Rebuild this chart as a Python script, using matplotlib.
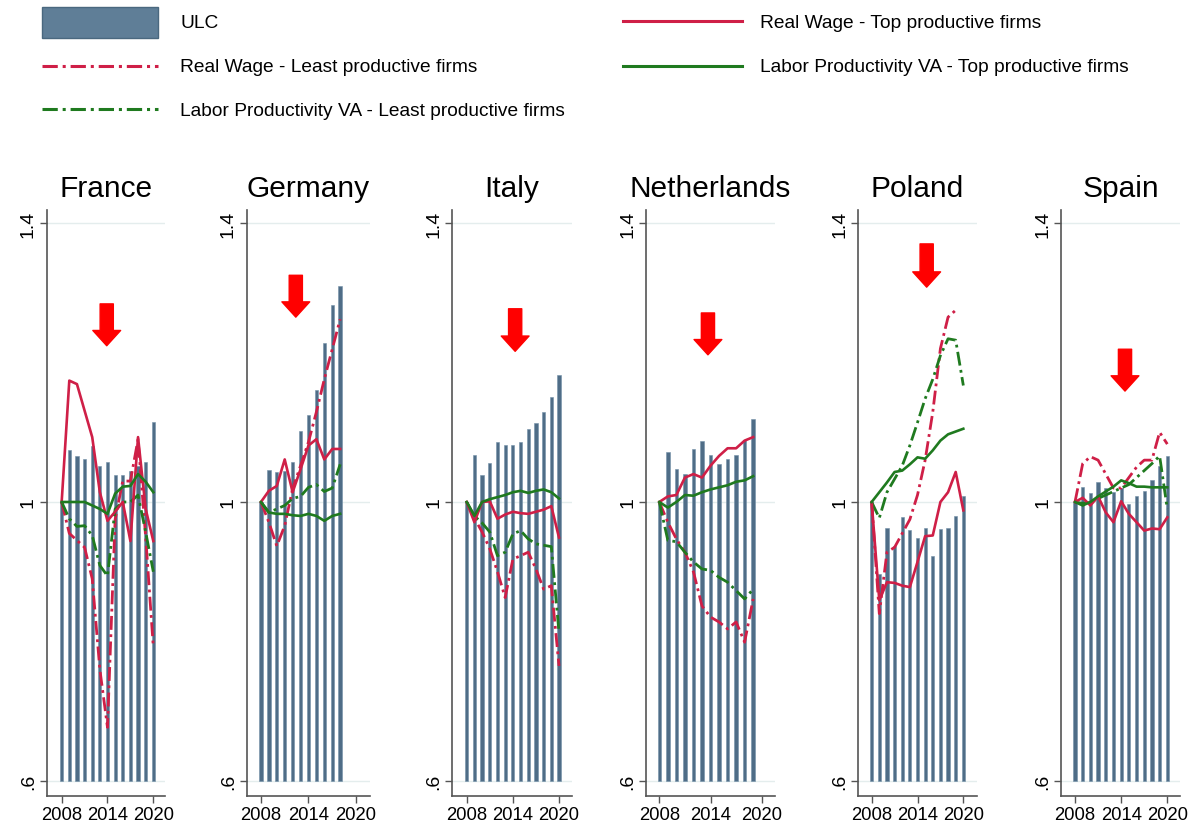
import matplotlib.pyplot as plt
import numpy as np
from matplotlib.lines import Line2D
from matplotlib.patches import Rectangle

plt.rcParams['font.family'] = ['Liberation Sans', 'DejaVu Sans']

nan = np.nan
countries = ['France', 'Germany', 'Italy', 'Netherlands', 'Poland', 'Spain']
first_year = 2008

# ULC (bars), index 2008 = 1
fr_ulc = [1.0, 1.075, 1.066, 1.062, 1.080, 1.052, 1.058, 1.039, 1.039, 1.045, 1.052, 1.058, 1.114]
de_ulc = [1.0, 1.046, 1.043, 1.045, 1.058, 1.102, 1.124, 1.160, 1.228, 1.282, 1.309]
it_ulc = [1.0, 1.067, 1.039, 1.056, 1.086, 1.082, 1.082, 1.086, 1.104, 1.113, 1.129, 1.150, 1.182]
nl_ulc = [1.0, 1.072, 1.048, 1.040, 1.076, 1.088, 1.068, 1.055, 1.062, 1.068, 1.089, 1.119]
pl_ulc = [1.0, 0.897, 0.962, 0.937, 0.978, 0.960, 0.949, 0.962, 0.923, 0.961, 0.962, 0.980, 1.009]
es_ulc = [1.0, 1.022, 1.013, 1.028, 1.020, 1.014, 1.020, 0.997, 1.009, 1.016, 1.032, 1.052, 1.066]

# Real wage - top productive firms
fr_rw_top = [1.0, 1.174, 1.169, 1.131, 1.093, 1.014, 0.973, 0.986, 1.000, 0.944, 1.093, 0.990, 0.944]
de_rw_top = [1.0, 1.016, 1.023, 1.061, 1.014, 1.047, 1.081, 1.090, 1.061, 1.076, 1.076]
it_rw_top = [1.0, 0.971, 1.000, 1.001, 0.976, 0.982, 0.986, 0.984, 0.983, 0.986, 0.989, 0.994, 0.949]
nl_rw_top = [1.0, 1.008, 1.010, 1.035, 1.040, 1.035, 1.052, 1.066, 1.077, 1.077, 1.088, 1.093]
pl_rw_top = [1.0, 0.859, 0.885, 0.884, 0.880, 0.878, 0.914, 0.951, 0.952, 1.000, 1.014, 1.043, 0.988]
es_rw_top = [1.0, 1.006, 0.995, 1.008, 0.985, 0.971, 1.001, 0.983, 0.971, 0.959, 0.962, 0.961, 0.978]

# Real wage - least productive firms
fr_rw_least = [1.0, 0.955, 0.945, 0.935, 0.890, 0.760, 0.677, 0.975, 1.030, 1.030, 1.090, 0.950, 0.792]
de_rw_least = [1.0, 0.971, 0.937, 0.966, 1.019, 1.052, 1.086, 1.129, 1.176, 1.219, 1.262]
it_rw_least = [1.0, 0.977, 0.957, 0.933, 0.900, 0.863, 0.918, 0.923, 0.928, 0.904, 0.875, 0.880, 0.765]
nl_rw_least = [1.0, 0.971, 0.947, 0.928, 0.900, 0.851, 0.835, 0.828, 0.818, 0.828, 0.799, 0.861]
pl_rw_least = [1.0, 0.840, 0.928, 0.935, 0.955, 0.975, 1.010, 1.060, 1.129, 1.220, 1.265, 1.275, nan]
es_rw_least = [1.0, 1.055, 1.065, 1.060, 1.040, 1.020, 1.020, 1.035, 1.050, 1.060, 1.060, 1.100, 1.083]

# Labor productivity VA - top productive firms
fr_lp_top = [1.0, 1.000, 1.000, 1.000, 0.995, 0.990, 0.983, 1.012, 1.022, 1.023, 1.040, 1.029, 1.014]
de_lp_top = [1.0, 0.985, 0.983, 0.983, 0.981, 0.980, 0.983, 0.980, 0.973, 0.980, 0.983]
it_lp_top = [1.0, 0.980, 1.000, 1.004, 1.007, 1.010, 1.014, 1.016, 1.013, 1.016, 1.018, 1.014, 1.005]
nl_lp_top = [1.0, 0.992, 1.000, 1.010, 1.009, 1.014, 1.018, 1.021, 1.024, 1.029, 1.031, 1.037]
pl_lp_top = [1.0, 1.014, 1.028, 1.043, 1.045, 1.054, 1.064, 1.062, 1.074, 1.088, 1.097, 1.101, 1.105]
es_lp_top = [1.0, 0.995, 1.000, 1.008, 1.015, 1.022, 1.031, 1.027, 1.022, 1.022, 1.021, 1.021, 1.021]

# Labor productivity VA - least productive firms
fr_lp_least = [1.0, 0.976, 0.965, 0.966, 0.952, 0.909, 0.894, 0.990, 1.000, 1.000, 1.010, 0.957, 0.900]
de_lp_least = [1.0, 0.985, 0.990, 0.995, 1.005, 1.008, 1.021, 1.025, 1.015, 1.020, 1.054]
it_lp_least = [1.0, 0.980, 0.970, 0.957, 0.923, 0.928, 0.954, 0.959, 0.947, 0.940, 0.938, 0.936, 0.813]
nl_lp_least = [1.0, 0.945, 0.943, 0.928, 0.914, 0.904, 0.902, 0.892, 0.885, 0.873, 0.861, 0.875]
pl_lp_least = [1.0, 0.977, 1.014, 1.033, 1.052, 1.081, 1.114, 1.148, 1.176, 1.210, 1.234, 1.232, 1.167]
es_lp_least = [1.0, 0.998, 1.000, 1.005, 1.010, 1.015, 1.020, 1.025, 1.035, 1.045, 1.055, 1.066, 0.990]

# red arrows: x (year), top and tip values
arrow_x = [2013.9, 2012.4, 2014.3, 2013.7, 2015.2, 2014.5]
arrow_top = [1.284, 1.325, 1.277, 1.271, 1.370, 1.219]
arrow_tip = [1.224, 1.265, 1.216, 1.211, 1.308, 1.159]

ulc = [fr_ulc, de_ulc, it_ulc, nl_ulc, pl_ulc, es_ulc]
rw_top = [fr_rw_top, de_rw_top, it_rw_top, nl_rw_top, pl_rw_top, es_rw_top]
rw_least = [fr_rw_least, de_rw_least, it_rw_least, nl_rw_least, pl_rw_least, es_rw_least]
lp_top = [fr_lp_top, de_lp_top, it_lp_top, nl_lp_top, pl_lp_top, es_lp_top]
lp_least = [fr_lp_least, de_lp_least, it_lp_least, nl_lp_least, pl_lp_least, es_lp_least]

# layout (pixels of a 1191x828 canvas)
W, H = 1191, 828
panel_left = [46.7, 246.7, 452.3, 646.0, 858.3, 1061.0]
panel_right = [165.0, 370.0, 571.7, 775.0, 976.7, 1180.0]
panel_xlim = [(2006.04, 2021.53), (2006.2, 2021.77), (2006.13, 2021.65),
              (2006.44, 2021.56), (2006.25, 2021.75), (2006.18, 2021.65)]
ax_top, ax_bottom = 211, 797

BAR = '#4f6d87'
RED = '#cf1f47'
GREEN = '#1f7a1f'
DASH = (0, (5, 1.6, 1, 1.6))
LEG_FS = 13.8

fig = plt.figure(figsize=(W / 100, H / 100), dpi=100)

for i, name in enumerate(countries):
    ax = fig.add_axes([panel_left[i] / W, 1 - ax_bottom / H,
                       (panel_right[i] - panel_left[i]) / W, (ax_bottom - ax_top) / H])
    yrs = np.arange(first_year, first_year + len(ulc[i]))
    for g in (0.6, 1.0, 1.4):
        ax.axhline(g, color='#e4eded', lw=1, zorder=0)
    ax.bar(yrs, np.array(ulc[i]) - 0.6, bottom=0.6, width=0.42, color=BAR,
           edgecolor='#7390a8', linewidth=0.4, zorder=1)
    ax.plot(yrs, rw_least[i], color=RED, lw=2.0, linestyle=DASH, zorder=3)
    ax.plot(yrs, lp_least[i], color=GREEN, lw=2.0, linestyle=DASH, zorder=3)
    ax.plot(yrs, rw_top[i], color=RED, lw=1.9, zorder=4)
    ax.plot(yrs, lp_top[i], color=GREEN, lw=1.9, zorder=4)

    ax.annotate('', xy=(arrow_x[i], arrow_tip[i]), xytext=(arrow_x[i], arrow_top[i]),
                arrowprops=dict(arrowstyle='simple,head_width=2.0,head_length=1.1,tail_width=0.95',
                                color='#ff0000', shrinkA=0, shrinkB=0, mutation_scale=10),
                zorder=5)

    ax.set_xlim(*panel_xlim[i])
    ax.set_ylim(0.5785, 1.4186)
    ax.set_xticks([2008, 2014, 2020])
    ax.set_xticklabels(['2008', '2014', '2020'], fontsize=13.3)
    ax.set_yticks([0.6, 1.0, 1.4])
    ax.set_yticklabels(['.6', '1', '1.4'], fontsize=14, rotation=90, va='center')
    ax.tick_params(axis='both', length=5, width=1, color='#555555', pad=2)
    for s in ('top', 'right'):
        ax.spines[s].set_visible(False)
    for s in ('left', 'bottom'):
        ax.spines[s].set_color('#555555')
        ax.spines[s].set_linewidth(1.2)
    ax.set_title(name, fontsize=21.5, pad=10)

# legend drawn on the figure
def fx(x):
    return x / W

def fy(y):
    return 1 - y / H

fig.add_artist(Rectangle((fx(42), fy(39)), fx(158) - fx(42), fy(8) - fy(39),
                         facecolor='#5f7e97', edgecolor='#4a687f', lw=1))
fig.text(fx(180), fy(23), 'ULC', fontsize=LEG_FS, va='center')

legend_lines = [
    (623, 742, 22, RED, '-', 'Real Wage - Top productive firms'),
    (42, 158, 67, RED, DASH, 'Real Wage - Least productive firms'),
    (623, 742, 67, GREEN, '-', 'Labor Productivity VA - Top productive firms'),
    (42, 158, 110, GREEN, DASH, 'Labor Productivity VA - Least productive firms'),
]
for x0, x1, y, c, ls, lab in legend_lines:
    fig.add_artist(Line2D([fx(x0), fx(x1)], [fy(y), fy(y)], color=c, lw=2.2, linestyle=ls))
    tx = 760 if x0 > 300 else 180
    fig.text(fx(tx), fy(y + 1), lab, fontsize=LEG_FS, va='center')

fig.savefig('out.png', dpi=100)
